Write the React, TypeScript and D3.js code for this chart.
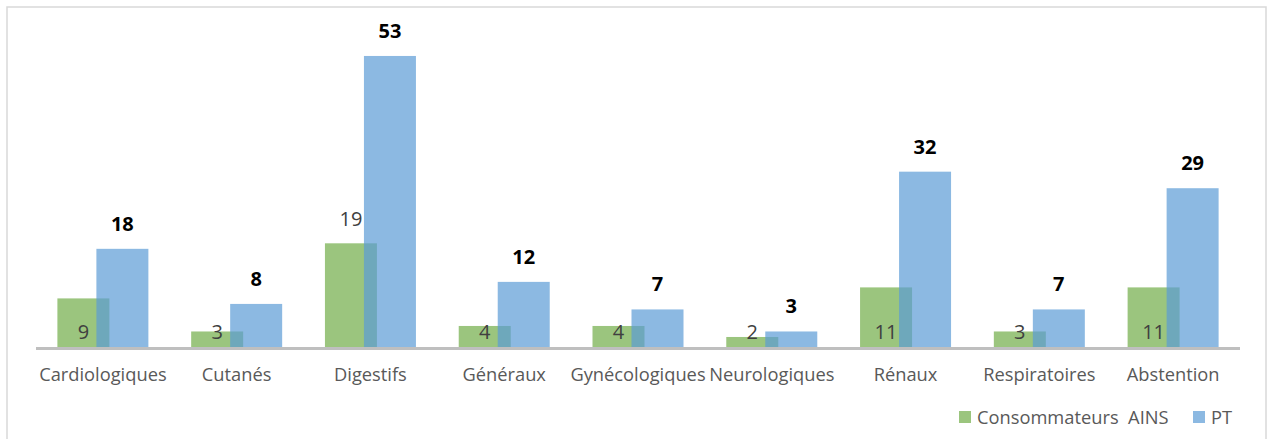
import React from "react";
import * as d3 from "d3";

const categories = ["Cardiologiques", "Cutanés", "Digestifs", "Généraux", "Gynécologiques", "Neurologiques", "Rénaux", "Respiratoires", "Abstention"];
const ainsValues = [9, 3, 19, 4, 4, 2, 11, 3, 11];
const ptValues = [18, 8, 53, 12, 7, 3, 32, 7, 29];
const ainsLabelOutside = ["Digestifs"];
const seriesNames = ["Consommateurs  AINS", "PT"];

const W = 1269;
const H = 439;
const FONT = "'Open Sans', 'Noto Sans', sans-serif";
const GREEN = "#70ad47";
const BLUE = "#5b9bd5";

export default function App() {
  const x = d3.scaleBand<string>().domain(categories).range([36, 1240]).padding(0);
  const y = d3.scaleLinear().domain([0, 60]).range([348, 17.4]);
  const bw = 52;
  const base = y(0);

  return (
    <svg width={W} height={H} style={{ position: "absolute", left: 0, top: 0, background: "#fff" }} fontFamily={FONT}>
      <rect x={0} y={0} width={W} height={H} fill="#fff" />
      <rect x={7} y={7} width={1259} height={445} fill="none" stroke="#d9d9d9" strokeWidth={1.5} />
      {categories.map((c, i) => {
        const cx = (x(c) as number) + x.bandwidth() / 2;
        const gx = cx - 45.5;
        const bx = cx - 6.5;
        const gv = ainsValues[i];
        const bv = ptValues[i];
        const outside = ainsLabelOutside.includes(c);
        return (
          <g key={c}>
            <rect x={gx} y={y(gv)} width={bw} height={base - y(gv)} fill={GREEN} fillOpacity={0.7} />
            <rect x={bx} y={y(bv)} width={bw} height={base - y(bv)} fill={BLUE} fillOpacity={0.7} />
            <text x={gx + bw / 2} y={outside ? y(gv) - 17 : base - 9} textAnchor="middle" fontSize={20} fill="#404040">
              {gv}
            </text>
            <text x={bx + bw / 2} y={y(bv) - 18} textAnchor="middle" fontSize={20} fontWeight="bold" fill="#000">
              {bv}
            </text>
            <text x={cx} y={381} textAnchor="middle" fontSize={18.3} fill="#595959">
              {c}
            </text>
          </g>
        );
      })}
      <line x1={36} x2={1240} y1={base + 0.5} y2={base + 0.5} stroke="#bfbfbf" strokeWidth={3} />
      <g>
        <rect x={959} y={411} width={12} height={12} fill={GREEN} fillOpacity={0.7} />
        <text x={977} y={424} fontSize={18.3} fill="#595959" style={{ whiteSpace: "pre" }}>
          {seriesNames[0]}
        </text>
        <rect x={1193} y={411} width={12} height={12} fill={BLUE} fillOpacity={0.7} />
        <text x={1211} y={424} fontSize={18.3} fill="#595959">
          {seriesNames[1]}
        </text>
      </g>
    </svg>
  );
}
